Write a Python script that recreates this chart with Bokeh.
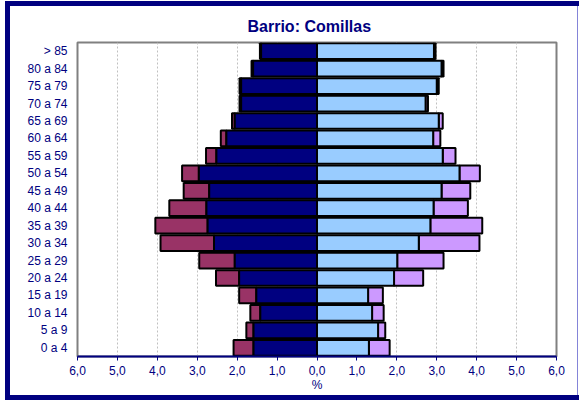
from bokeh.plotting import figure
from bokeh.models import FactorRange, Range1d, FixedTicker, ColumnDataSource
from bokeh.embed import file_html
from bokeh.resources import INLINE

# ---- data (percent of population) ----
age_groups = ["0 a 4", "5 a 9", "10 a 14", "15 a 19", "20 a 24", "25 a 29", "30 a 34",
              "35 a 39", "40 a 44", "45 a 49", "50 a 54", "55 a 59", "60 a 64",
              "65 a 69", "70 a 74", "75 a 79", "80 a 84", "> 85"]
men_spanish = [1.59, 1.59, 1.42, 1.52, 1.95, 2.06, 2.58, 2.74, 2.77, 2.70, 2.96, 2.52, 2.27,
               2.06, 1.90, 1.90, 1.60, 1.40]
men_foreign = [0.50, 0.18, 0.25, 0.43, 0.58, 0.89, 1.34, 1.31, 0.93, 0.64, 0.42, 0.26, 0.14,
               0.07, 0.04, 0.04, 0.04, 0.03]
women_spanish = [1.30, 1.53, 1.38, 1.28, 1.93, 2.01, 2.55, 2.84, 2.92, 3.12, 3.57, 3.15, 2.91,
                 3.05, 2.72, 3.00, 3.12, 2.93]
women_foreign = [0.52, 0.18, 0.29, 0.37, 0.73, 1.16, 1.52, 1.30, 0.86, 0.72, 0.51, 0.32, 0.18,
                 0.10, 0.06, 0.05, 0.05, 0.04]
x_ticks = [-6, -5, -4, -3, -2, -1, 0, 1, 2, 3, 4, 5, 6]
x_tick_labels = ["6,0", "5,0", "4,0", "3,0", "2,0", "1,0", "0,0", "1,0", "2,0", "3,0", "4,0", "5,0", "6,0"]
title_text = "Barrio: Comillas"
x_axis_title = "%"

NAVY = "#000080"
FONT = "Liberation Sans"

src = ColumnDataSource(dict(
    age=age_groups,
    m_es_l=[-v for v in men_spanish],
    m_tot_l=[-(a + b) for a, b in zip(men_spanish, men_foreign)],
    w_es_r=women_spanish,
    w_tot_r=[a + b for a, b in zip(women_spanish, women_foreign)],
))

p = figure(width=579, height=400, y_range=FactorRange(*age_groups), x_range=Range1d(-6, 6),
           output_backend="svg", toolbar_location=None,
           min_border_left=77, min_border_right=23, min_border_top=42, min_border_bottom=44)
p.background_fill_color = "white"
p.border_fill_color = None
p.outline_line_color = "#808080"
p.outline_line_width = 2
# outer navy chart-area frame drawn as background layers of the host element
bar = "linear-gradient(#000080, #000080)"
edge = "linear-gradient(#8484d8, #8484d8)"
p.styles = {
    "background": (f"{bar} 5px 1px / 600px 5px no-repeat, "
                   f"{bar} 5px 1px / 5px 399px no-repeat, "
                   f"{bar} 5px 395px / 600px 5px no-repeat, "
                   f"{edge} 577px 6px / 1px 389px no-repeat, white"),
}

p.title.text = title_text
p.title.align = "left"
p.title.offset = 170
p.title.standoff = 16
p.title.text_font = FONT
p.title.text_font_size = "16px"
p.title.text_font_style = "bold"
p.title.text_color = NAVY

bh = 0.9
p.hbar(y="age", left="m_tot_l", right="m_es_l", height=bh, source=src,
       fill_color="#993366", line_color="black", line_width=2)
p.hbar(y="age", left="m_es_l", right=0, height=bh, source=src,
       fill_color=NAVY, line_color="black", line_width=2)
p.hbar(y="age", left="w_es_r", right="w_tot_r", height=bh, source=src,
       fill_color="#CC99FF", line_color="black", line_width=2)
p.hbar(y="age", left=0, right="w_es_r", height=bh, source=src,
       fill_color="#99CCFF", line_color="black", line_width=2)

p.ygrid.grid_line_color = None
p.xgrid.ticker = FixedTicker(ticks=x_ticks)
p.xgrid.grid_line_color = "#c0c0c0"
p.xgrid.grid_line_dash = "2 2"
p.xgrid.grid_line_width = 1

xa = p.xaxis[0]
xa.ticker = FixedTicker(ticks=x_ticks)
xa.major_label_overrides = {t: lab for t, lab in zip(x_ticks, x_tick_labels)}
xa.axis_line_color = NAVY
xa.axis_line_width = 2
xa.major_tick_line_color = NAVY
xa.major_tick_line_width = 1
xa.major_tick_out = 4
xa.major_tick_in = 0
xa.minor_tick_line_color = None
xa.major_label_text_font = FONT
xa.major_label_text_font_size = "12px"
xa.major_label_text_color = NAVY
xa.major_label_standoff = 5
xa.axis_label = x_axis_title
xa.axis_label_standoff = 0
xa.axis_label_text_font = FONT
xa.axis_label_text_font_size = "12px"
xa.axis_label_text_font_style = "normal"
xa.axis_label_text_color = NAVY

ya = p.yaxis[0]
ya.axis_line_color = None
ya.major_tick_line_color = None
ya.minor_tick_line_color = None
ya.major_tick_out = 0
ya.major_tick_in = 0
ya.major_label_standoff = 10
ya.major_label_text_font = FONT
ya.major_label_text_font_size = "12px"
ya.major_label_text_color = NAVY

open("out.html", "w").write(file_html(p, INLINE))
